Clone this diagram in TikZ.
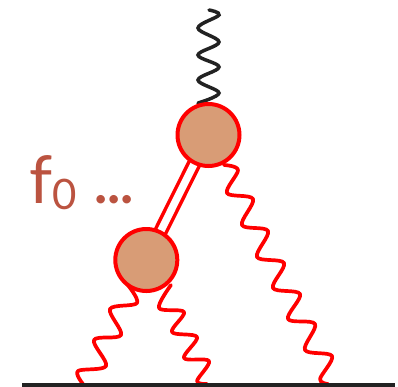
\documentclass[tikz,border=0pt]{standalone}
\usepackage{fontspec}
\setmainfont{Lato}
\definecolor{blobfill}{HTML}{D89C76}
\definecolor{labelc}{HTML}{BB5340}
\definecolor{basec}{HTML}{222222}
\begin{document}
\begin{tikzpicture}[x=1pt,y=-1pt,
  blob/.style={circle,draw=red,fill=blobfill,line width=4pt,minimum size=62pt,inner sep=0pt},
  wig/.style={line width=3.7pt,red,line join=round,line cap=round},
  bos/.style={line width=3.5pt,color=basec,line cap=round},
  lab/.style={text=labelc,inner sep=0pt,anchor=base west}]
\useasboundingbox (0,0) rectangle (398,386);
\fill[white] (0,0) rectangle (398,386);
\coordinate (btop) at (209,10);
\coordinate (tl) at (224,165);
\coordinate (ml) at (127,284);
\coordinate (mr) at (171,285);
\coordinate (e1) at (83,384);
\coordinate (e2) at (207,384);
\coordinate (e3) at (328,384);
\coordinate (bl) at (22,384.5);
\coordinate (br) at (395,384.5);
\draw[bos] plot[smooth,tension=0.6] coordinates {(btop) (219,15) (198,28) (219,42) (198,55) (219,67) (198,80) (219,93) (198,103)};
\draw[red,line width=3.5pt,double=white,double distance=7.5pt] (208.5,135) -- (146.3,260);
\draw[wig] plot[smooth,tension=0.55] coordinates {(tl) (238,170) (227,193) (253,199) (242,225) (268,231) (257,257) (284,263) (273,288) (300,294) (288,319) (315,324) (305,350) (332,356) (320,379) (e3)};
\draw[wig] plot[smooth,tension=0.55] coordinates {(ml) (137,303) (110,309) (121,335) (94,340) (106,366) (78,371) (e1)};
\draw[wig] plot[smooth,tension=0.55] coordinates {(mr) (159,308) (184,312) (172,332) (197,337) (184,358) (209,361) (197,381) (e2)};
\node[blob] (top) at (208.5,135) {};
\node[blob] (low) at (146.3,260) {};
\draw[basec,line width=4pt] (bl) -- (br);
\node[lab,font=\fontsize{66}{66}\selectfont] (f) at (29,203) {f};
\node[lab,font=\fontsize{42}{42}\selectfont] (o) at (52,209) {0};
\node[lab,font=\bfseries\fontsize{56}{56}\selectfont] (d) at (94,203) {...};
\end{tikzpicture}
\end{document}
